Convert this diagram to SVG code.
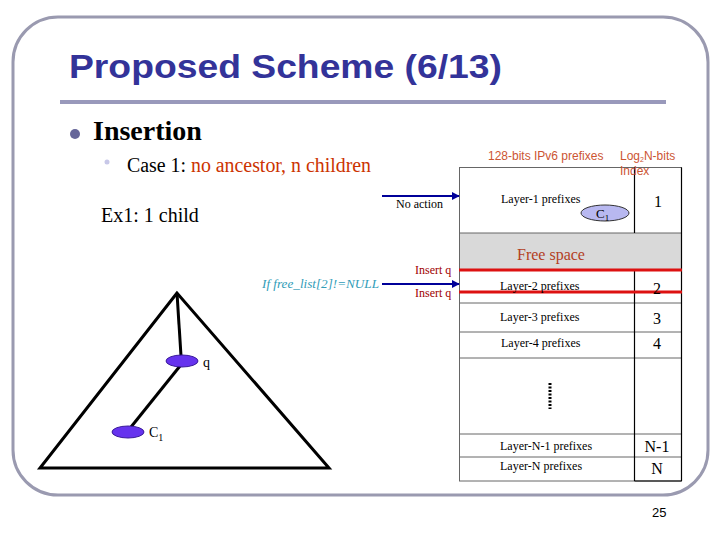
<svg xmlns="http://www.w3.org/2000/svg" width="720" height="540" viewBox="0 0 720 540">
<defs>
<marker id="ah" viewBox="0 0 10 10" refX="9" refY="5" markerWidth="4" markerHeight="4" orient="auto" markerUnits="strokeWidth"><path d="M0,0 L10,5 L0,10 z" fill="#000099"/></marker>
<style>
.serif{font-family:"Liberation Serif","Times New Roman",serif}
.sans{font-family:"Liberation Sans",Arial,sans-serif}
.cell{font-family:"Liberation Serif",serif;font-size:12px;fill:#000}
.idx{font-family:"Liberation Serif",serif;font-size:16px;fill:#000;text-anchor:middle}
.row{stroke:#666;stroke-width:1}
.col{stroke:#000;stroke-width:1.2}
.red{stroke:#dd1111;stroke-width:3}
.arrow{stroke:#000099;stroke-width:2;fill:none;marker-end:url(#ah)}
.edge{stroke:#000;stroke-width:3;fill:none}
.node{fill:#6633ee;stroke:#3a1a9a;stroke-width:1}
.ins{font-family:"Liberation Serif",serif;font-size:12px;fill:#a00000}
</style>
</defs>
<rect width="720" height="540" fill="#fff"/>
<rect x="13" y="17" width="695" height="478" rx="45" ry="45" fill="none" stroke="#9a9ab0" stroke-width="3"/>
<g id="title">
<text x="69" y="78" class="sans" font-size="33" font-weight="bold" fill="#333399" textLength="433" lengthAdjust="spacingAndGlyphs">Proposed Scheme (6/13)</text>
<line x1="60" y1="102" x2="666" y2="102" stroke="#9999bb" stroke-width="4"/>
</g>
<g id="bullets">
<circle cx="75" cy="134" r="5" fill="#666699"/>
<text x="93" y="140" class="serif" font-size="28" font-weight="bold" fill="#000">Insertion</text>
<circle cx="107" cy="162" r="2.5" fill="#c8c8e8"/>
<text x="127" y="172" class="serif" font-size="20" fill="#000" textLength="244" lengthAdjust="spacingAndGlyphs">Case 1: <tspan fill="#cc3300">no ancestor, n children</tspan></text>
<text x="101" y="222" class="serif" font-size="20" fill="#000">Ex1: 1 child</text>
</g>
<g id="table">
<rect x="459.500" y="233" width="222" height="37" fill="#d9d9d9"/>
<rect x="459.500" y="167.500" width="222" height="313.500" fill="none" class="row"/>
<line x1="459.500" y1="233" x2="681.500" y2="233" class="row"/>
<line x1="459.500" y1="303" x2="681.500" y2="303" class="row"/>
<line x1="459.500" y1="332" x2="681.500" y2="332" class="row"/>
<line x1="459.500" y1="358" x2="681.500" y2="358" class="row"/>
<line x1="459.500" y1="434" x2="681.500" y2="434" class="row"/>
<line x1="459.500" y1="457" x2="681.500" y2="457" class="row"/>
<line x1="634.500" y1="167.500" x2="634.500" y2="233" class="col"/>
<line x1="634.500" y1="270" x2="634.500" y2="481" class="col"/>
<line x1="681.500" y1="167.500" x2="681.500" y2="481" class="col"/>
<line x1="634.500" y1="481" x2="681.500" y2="481" class="col"/>
<line x1="459" y1="270" x2="682" y2="270" class="red"/>
<line x1="459" y1="292" x2="682" y2="292" class="red"/>
<text x="488" y="160" class="sans" font-size="12" fill="#cc5533">128-bits IPv6 prefixes</text>
<text x="620" y="160" class="sans" font-size="12" fill="#cc5533">Log<tspan font-size="7" dy="2">2</tspan><tspan dy="-2">N-bits</tspan></text>
<text x="620" y="175" class="sans" font-size="12" fill="#cc5533">Index</text>
<text x="501" y="203" class="cell">Layer-1 prefixes</text>
<text x="658" y="207" class="idx">1</text>
<text x="517" y="260" class="serif" font-size="16" fill="#b3401f">Free space</text>
<text x="500" y="290" class="cell">Layer-2 prefixes</text>
<text x="657" y="294" class="idx">2</text>
<text x="500" y="321" class="cell">Layer-3 prefixes</text>
<text x="657" y="324" class="idx">3</text>
<text x="501" y="347" class="cell">Layer-4 prefixes</text>
<text x="657" y="349" class="idx">4</text>
<line x1="550" y1="383" x2="550" y2="409" stroke="#000" stroke-width="3" stroke-dasharray="2,1.5"/>
<text x="500" y="450" class="cell">Layer-N-1 prefixes</text>
<text x="657" y="452" class="idx">N-1</text>
<text x="500" y="470" class="cell">Layer-N prefixes</text>
<text x="657" y="474" class="idx">N</text>
</g>
<g id="c1-table">
<ellipse cx="605" cy="213" rx="24" ry="8" fill="#b8b8f0" stroke="#333" stroke-width="1"/>
<text x="596" y="218" class="serif" font-size="13" fill="#000">C<tspan font-size="9" dy="3">1</tspan></text>
</g>
<g id="labels">
<text x="396" y="208" class="serif" font-size="12" fill="#000">No action</text>
<text x="415" y="274" class="ins">Insert q</text>
<text x="415" y="297" class="ins">Insert q</text>
<text x="262" y="288" class="serif" font-size="12" font-style="italic" fill="#2f9cb8" textLength="117" lengthAdjust="spacingAndGlyphs">If free_list[2]!=NULL</text>
<text x="652" y="517" class="sans" font-size="13" fill="#000">25</text>
</g>
<g id="connectors">
<line x1="382" y1="196" x2="459" y2="196" class="arrow"/>
<line x1="382" y1="284" x2="459" y2="284" class="arrow"/>
<line x1="177" y1="293" x2="181" y2="356" class="edge"/>
<line x1="180" y1="366" x2="131" y2="427" class="edge"/>
</g>
<g id="triangle">
<polygon points="177,293 40,468 329,468" fill="none" stroke="#000" stroke-width="3" stroke-linejoin="miter"/>
</g>
<g id="node-q">
<ellipse cx="182" cy="361" rx="16" ry="6" class="node"/>
<text x="203" y="367" class="serif" font-size="14" fill="#000">q</text>
</g>
<g id="node-c1">
<ellipse cx="128" cy="432" rx="16" ry="6" class="node"/>
<text x="149" y="437" class="serif" font-size="14" fill="#000">C<tspan font-size="10" dy="4">1</tspan></text>
</g>
</svg>
